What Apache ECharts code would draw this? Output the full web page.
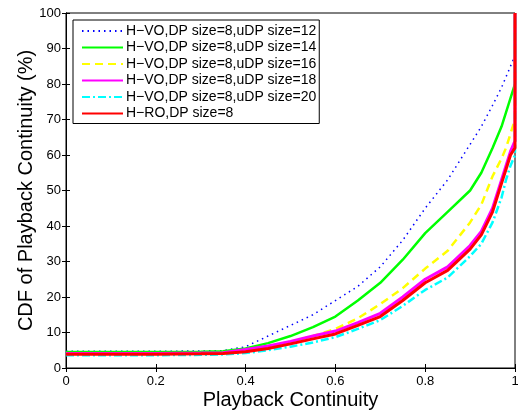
<!DOCTYPE html>
<html><head><meta charset="utf-8">
<script src="https://cdn.jsdelivr.net/npm/echarts@6/dist/echarts.min.js"></script>
<style>html,body{margin:0;padding:0;background:#fff}#c{width:518px;height:414px}</style>
</head><body><div id="c"></div>
<script>
const xs = [0, 0.1, 0.2, 0.3, 0.35, 0.4, 0.45, 0.5, 0.55, 0.6, 0.65, 0.7, 0.75, 0.8, 0.85, 0.9, 0.925, 0.95, 0.97, 0.98, 0.99, 1.0, 1.0];
const uDP12 = [4.7, 4.7, 4.7, 4.8, 4.9, 6.0, 9.0, 12.0, 15.0, 19.0, 23.0, 28.5, 36.0, 45.0, 53.0, 63.0, 68.0, 74.0, 79.0, 82.0, 85.0, 88.0, 100];
const uDP14 = [4.5, 4.5, 4.5, 4.6, 4.7, 5.5, 7.0, 9.0, 11.5, 14.5, 19.0, 24.0, 30.5, 38.0, 44.0, 50.0, 55.0, 62.0, 68.0, 72.0, 76.0, 80.0, 100];
const uDP16 = [4.0, 4.0, 4.0, 4.1, 4.2, 4.8, 6.0, 7.3, 9.0, 11.0, 14.0, 18.0, 22.5, 28.0, 33.0, 41.0, 46.0, 54.0, 59.0, 62.0, 66.0, 70.0, 100];
const uDP18 = [4.1, 4.1, 4.1, 4.2, 4.3, 5.2, 6.2, 7.5, 9.0, 10.4, 12.8, 15.4, 20.0, 25.0, 28.5, 34.5, 38.5, 45.0, 53.0, 57.0, 61.0, 64.0, 100];
const uDP20 = [3.6, 3.6, 3.6, 3.7, 3.8, 4.2, 5.0, 6.0, 7.2, 8.7, 11.0, 13.5, 17.5, 22.0, 25.5, 31.5, 35.0, 41.0, 48.0, 53.0, 57.0, 60.0, 100];
const hRO8 = [3.9, 3.9, 3.9, 4.0, 4.1, 4.6, 5.5, 6.8, 8.2, 9.6, 12.0, 14.5, 19.0, 24.0, 27.5, 33.5, 37.5, 44.0, 52.0, 56.0, 60.0, 62.0, 100];
const names = ['H\u2212VO,DP size=8,uDP size=12','H\u2212VO,DP size=8,uDP size=14','H\u2212VO,DP size=8,uDP size=16','H\u2212VO,DP size=8,uDP size=18','H\u2212VO,DP size=8,uDP size=20','H\u2212RO,DP size=8'];
const xTicks = ['0','0.2','0.4','0.6','0.8','1'];

const pairs = arr => xs.map((x, i) => [x, arr[i]]);
const styles = [
  {color:'#0000ff', width:1.5, type:[1.5,4]},
  {color:'#00ff00', width:2.5, type:'solid'},
  {color:'#ffff00', width:2.5, type:[8,5]},
  {color:'#ff00ff', width:3, type:'solid'},
  {color:'#00ffff', width:2.5, type:[8,3,2,3]},
  {color:'#ff0000', width:3, type:'solid'}
];
const datas = [uDP12, uDP14, uDP16, uDP18, uDP20, hRO8];
const font = 'Liberation Sans, Arial, Helvetica, sans-serif';
const chart = echarts.init(document.getElementById('c'));
const axisCommon = {
  axisLine:{show:true, lineStyle:{color:'#000', width:1}},
  axisTick:{show:true, inside:true, length:4, lineStyle:{color:'#000'}},
  splitLine:{show:false}
};
chart.setOption({
  animation:false,
  backgroundColor:'#fff',
  grid:{left:66, top:13, right:3, bottom:46, show:true, borderColor:'#000', borderWidth:1,
    containLabel:false, outerBoundsMode:'none'},
  legend:{
    orient:'vertical', left:73, top:20, data:names,
    itemWidth:41, itemHeight:10, itemGap:2.5,
    padding:[4,3,3,8],
    backgroundColor:'#fff', borderColor:'#000', borderWidth:1,
    itemStyle:{color:'rgba(0,0,0,0)', borderWidth:0, opacity:0},
    textStyle:{fontFamily:font, fontSize:14, color:'#000', padding:[0,0,0,-2]}
  },
  xAxis:[
    Object.assign({type:'value', min:0, max:1, interval:0.2, position:'bottom',
      name:'Playback Continuity', nameLocation:'middle', nameGap:22, nameMoveOverlap:false,
      nameTextStyle:{fontFamily:font, fontSize:20, color:'#000'},
      axisLabel:{fontFamily:font, fontSize:13, color:'#000', margin:7,
        formatter:v => xTicks[Math.round(v/0.2)]}}, axisCommon),
    Object.assign({type:'value', min:0, max:1, interval:0.2, position:'top', axisLabel:{show:false}}, axisCommon)
  ],
  yAxis:[
    Object.assign({type:'value', min:0, max:100, interval:10, position:'left',
      name:'CDF of Playback Continuity (%)', nameLocation:'middle', nameGap:30, nameMoveOverlap:false,
      nameTextStyle:{fontFamily:font, fontSize:20, color:'#000'},
      axisLabel:{fontFamily:font, fontSize:13, color:'#000', margin:5}}, axisCommon),
    Object.assign({type:'value', min:0, max:100, interval:10, position:'right', axisLabel:{show:false}}, axisCommon)
  ],
  series: datas.map((d, i) => ({
    name:names[i], type:'line', data:pairs(d), symbol:'none', showSymbol:false,
    itemStyle:{color:styles[i].color},
    lineStyle:{color:styles[i].color, width:styles[i].width, type:styles[i].type},
    z: 2 + i
  }))
});
</script></body></html>
